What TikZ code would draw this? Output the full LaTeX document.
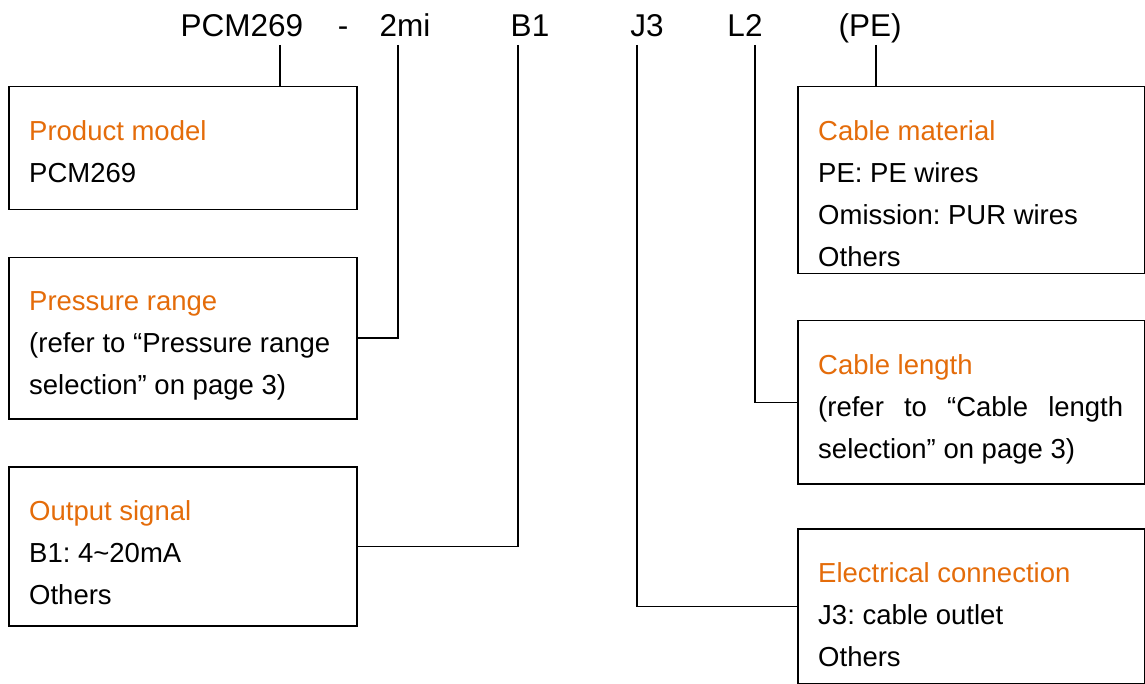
\documentclass[tikz,border=0pt]{standalone}
\usepackage{fontspec}
\setmainfont{Liberation Sans}
\usetikzlibrary{positioning}
\definecolor{codeorange}{RGB}{228,108,10}
\tikzset{
  codelabel/.style={anchor=base,inner sep=0pt,font=\fontsize{31.5}{42}\selectfont},
  codebox/.style={draw,line width=1.5pt,anchor=north west,inner sep=0pt,minimum width=348pt},
  boxtext/.style={anchor=north west,align=left,inner sep=0pt,font=\fontsize{27.5}{42}\selectfont\frenchspacing},
  thickleg/.style={line width=2pt},
  thinleg/.style={line width=1.3pt}
}
\newcommand{\ttl}[1]{\textcolor{codeorange}{#1}}
\begin{document}
\begin{tikzpicture}[x=1pt,y=-1pt]
    \useasboundingbox (0,0) rectangle (1145,684);

    % order code along the top
    \node[codelabel] (pcm) at (242,37) {PCM269};
    \node[codelabel] (dash) at (343,37) {-};
    \node[codelabel] (range) at (405,37) {2mi};
    \node[codelabel] (sig) at (530,37) {B1};
    \node[codelabel] (conn) at (647,37) {J3};
    \node[codelabel] (len) at (745,37) {L2};
    \node[codelabel] (mat) at (870,37) {(PE)};

    % boxes on the left
    \node[codebox,minimum height=123pt] (modelbox) at (8,86) {};
    \node[codebox,minimum height=161pt] (rangebox) at (8,257) {};
    \node[codebox,minimum height=159pt] (sigbox) at (8,466) {};
    % boxes on the right
    \node[codebox,minimum width=347pt,minimum height=187pt] (matbox) at (797,86) {};
    \node[codebox,minimum width=347pt,minimum height=163pt] (lenbox) at (797,320) {};
    \node[codebox,minimum width=347pt,minimum height=155pt] (connbox) at (797,528) {};

    \node[boxtext] (modeltxt) at ([shift={(21,34)}]modelbox.north west) {\ttl{Product model}\\PCM269};
    \node[boxtext] (rangetxt) at ([shift={(21,34)}]rangebox.north west) {\ttl{Pressure range}\\(refer to “Pressure range\\selection” on page 3)};
    \node[boxtext] (sigtxt) at ([shift={(21,34)}]sigbox.north west) {\ttl{Output signal}\\B1: 4\textasciitilde 20mA\\Others};
    \node[boxtext] (mattxt) at ([shift={(21,34)}]matbox.north west) {\ttl{Cable material}\\PE: PE wires\\Omission: PUR wires\\Others};
    \node[boxtext,text width=305pt,align=justify] (lentxt) at ([shift={(21,34)}]lenbox.north west) {\ttl{Cable length}\\(refer to “Cable length \mbox{selection”} on page 3)};
    \node[boxtext] (conntxt) at ([shift={(21,34)}]connbox.north west) {\ttl{Electrical connection}\\J3: cable outlet\\Others};

    % legs from the code down to the boxes
    \coordinate (pcmleg) at (280,45);
    \coordinate (rangeleg) at (398,45);
    \coordinate (sigleg) at (518,45);
    \coordinate (connleg) at (637,45);
    \coordinate (lenleg) at (755,45);
    \coordinate (matleg) at (876,45);

    \draw[thickleg] (pcmleg) -- (pcmleg |- modelbox.north);
    \draw[thickleg] (rangeleg) |- (rangebox.east);
    \draw[thinleg] (sigleg) |- (sigbox.east);
    \draw[thinleg] (connleg) |- (connbox.west);
    \draw[thinleg] (lenleg) |- (lenbox.west);
    \draw[thickleg] (matleg) -- (matleg |- matbox.north);
\end{tikzpicture}
\end{document}
